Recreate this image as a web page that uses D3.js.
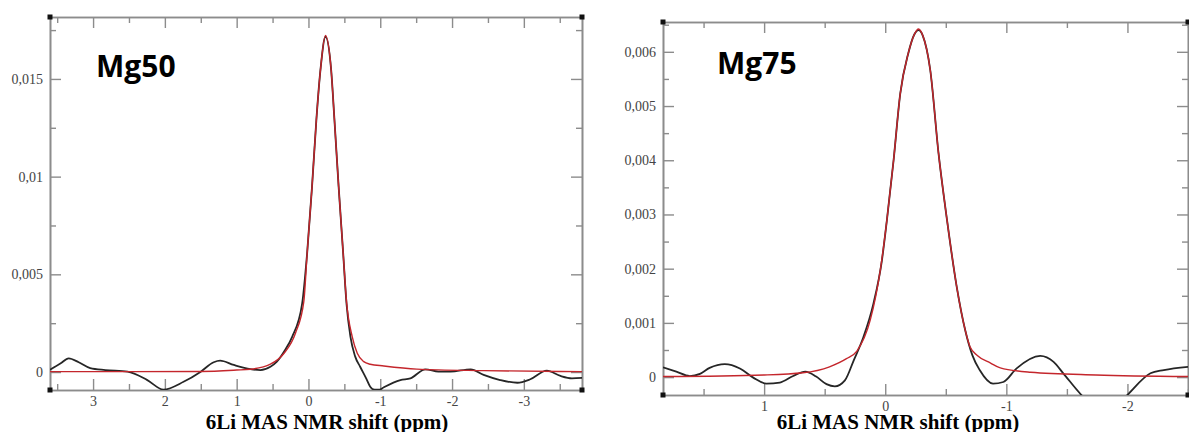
<!DOCTYPE html>
<html><head><meta charset="utf-8">
<script src="https://cdn.jsdelivr.net/npm/d3@7"></script>
<style>body{margin:0;background:#fff}svg{display:block}</style>
</head><body><svg id="c" width="1189" height="432"></svg>
<script>
// ---------- Mg50 ----------
const mg50Shift = [3.60,3.45,3.34,3.20,3.04,2.83,2.52,2.25,2.02,1.74,1.50,1.32,1.23,1.04,0.81,0.67,0.53,0.44,0.33,0.227,0.088,0.018,-0.05,-0.11,-0.167,-0.237,-0.316,-0.362,-0.42,-0.483,-0.53,-0.585,-0.65,-0.72,-0.80,-0.86,-0.92,-0.99,-1.05,-1.28,-1.42,-1.63,-1.81,-1.98,-2.26,-2.44,-2.67,-2.91,-3.09,-3.32,-3.51,-3.67,-3.82];
const mg50Intensity = [0.00012,0.00045,0.0007,0.0005,0.0002,0.0001,0.00002,-0.0004,-0.0009,-0.0005,0.00002,0.0005,0.00058,0.00036,0.00015,0.0001,0.00027,0.00053,0.0011,0.0018,0.0035,0.0061,0.0095,0.0129,0.01546,0.01716,0.01546,0.0129,0.0095,0.0061,0.0035,0.0018,0.0008,0.00027,-0.0003,-0.00075,-0.0009,-0.0009,-0.00078,-0.00041,-0.00032,0.00014,0.00002,0.00002,0.00014,-0.00015,-0.00041,-0.00055,-0.00037,0.00007,-0.0002,-0.00032,-0.0003];
const mg50FitShift = [3.60,2.5,1.5,1.0,0.81,0.53,0.34,0.18,0.065,0.018,-0.05,-0.11,-0.167,-0.237,-0.316,-0.362,-0.42,-0.483,-0.53,-0.61,-0.68,-0.77,-0.86,-1.05,-1.51,-2.44,-3.82];
const mg50Fit = [0.00002,0.00002,0.00003,0.0001,0.00014,0.0004,0.00096,0.002,0.0036,0.0061,0.0095,0.0129,0.01546,0.01722,0.01546,0.0129,0.0095,0.0061,0.0036,0.0018,0.00096,0.00053,0.0004,0.00031,0.00015,0.00007,0.00002];
const mg50XTicks = [3,2,1,0,-1,-2,-3];
const mg50XMinor = [3.5,2.5,1.5,0.5,-0.5,-1.5,-2.5,-3.5];
const mg50YTicks = [0,0.005,0.01,0.015];
const mg50YLabels = ["0","0,005","0,01","0,015"];
const mg50YMinor = [0.0025,0.0075,0.0125,0.0175];

// ---------- Mg75 ----------
const mg75Shift = [1.835,1.725,1.614,1.53,1.45,1.325,1.2,1.09,0.98,0.87,0.76,0.66,0.57,0.485,0.416,0.333,0.26,0.18,0.097,0.027,-0.014,-0.069,-0.124,-0.19,-0.24,-0.275,-0.31,-0.372,-0.44,-0.51,-0.59,-0.66,-0.72,-0.78,-0.89,-0.975,-1.085,-1.28,-1.39,-1.47,-1.62,-1.75,-1.88,-2.0,-2.19,-2.3,-2.5];
const mg75Intensity = [0.00018,0.0001,0.00002,0.00006,0.00017,0.00024,0.00016,-0.00001,-0.00012,-0.0001,0.00002,0.0001,0.00001,-0.00013,-0.00017,-0.00006,0.00031,0.00074,0.00136,0.00216,0.0029,0.004,0.00523,0.00597,0.00632,0.0064,0.0063,0.00566,0.00413,0.0029,0.00167,0.00087,0.0004,0.00013,-0.00012,-0.00009,0.00016,0.00039,0.00028,0.00007,-0.00033,-0.0006,-0.0006,-0.00033,0.00007,0.00013,0.00019];
const mg75FitShift = [1.835,1.0,0.68,0.46,0.32,0.234,0.124,0.041,-0.014,-0.069,-0.124,-0.19,-0.24,-0.275,-0.31,-0.372,-0.44,-0.51,-0.59,-0.66,-0.70,-0.76,-0.87,-0.95,-1.2,-1.74,-2.5];
const mg75Fit = [0.00001,0.00004,0.00008,0.00019,0.00034,0.00048,0.00105,0.00197,0.0029,0.004,0.00523,0.00597,0.00632,0.00642,0.0063,0.00566,0.00413,0.0029,0.00167,0.00087,0.00056,0.0004,0.00026,0.00017,0.00009,0.00004,0.00001];
const mg75XTicks = [1,0,-1,-2];
const mg75XMinor = [1.5,0.5,-0.5,-1.5,-2.5];
const mg75YTicks = [0,0.001,0.002,0.003,0.004,0.005,0.006];
const mg75YLabels = ["0","0,001","0,002","0,003","0,004","0,005","0,006"];
const mg75YMinor = [0.0005,0.0015,0.0025,0.0035,0.0045,0.0055,0.0065];

const axisTitle = "6Li MAS NMR shift (ppm)";

const svg = d3.select("#c");
const AXC = "#8c8c8c", LBL = "#444";

function panel(o) {
  const x = d3.scaleLinear().domain(o.xDomain).range([o.L, o.R]);
  const y = d3.scaleLinear().domain(o.yDomain).range([o.B, o.T]);
  const g = svg.append("g");
  const cid = "clip" + o.id;
  svg.append("clipPath").attr("id", cid).append("rect")
    .attr("x", o.L).attr("y", o.T).attr("width", o.R - o.L).attr("height", o.B - o.T);

  const style = sel => {
    sel.selectAll(".domain").attr("stroke", AXC).attr("stroke-width", 1.6);
    sel.selectAll(".tick line").attr("stroke", AXC).attr("stroke-width", 1.4);
    sel.selectAll("text").attr("fill", LBL).attr("font-family", "Liberation Serif, serif").attr("font-size", 14);
  };
  // bottom
  g.append("g").attr("transform", `translate(0,${o.B})`)
    .call(d3.axisBottom(x).tickValues(o.xMinor).tickSizeInner(-6).tickSizeOuter(0).tickFormat("")).call(style);
  g.append("g").attr("transform", `translate(0,${o.B})`)
    .call(d3.axisBottom(x).tickValues(o.xTicks).tickSizeInner(-11).tickSizeOuter(0).tickPadding(6).tickFormat(d => String(d))).call(style);
  // top
  g.append("g").attr("transform", `translate(0,${o.T})`)
    .call(d3.axisTop(x).tickValues(o.xMinor).tickSizeInner(-6).tickSizeOuter(0).tickFormat("")).call(style);
  g.append("g").attr("transform", `translate(0,${o.T})`)
    .call(d3.axisTop(x).tickValues(o.xTicks).tickSizeInner(-11).tickSizeOuter(0).tickFormat("")).call(style);
  // left
  g.append("g").attr("transform", `translate(${o.L},0)`)
    .call(d3.axisLeft(y).tickValues(o.yMinor).tickSizeInner(-6).tickSizeOuter(0).tickFormat("")).call(style);
  g.append("g").attr("transform", `translate(${o.L},0)`)
    .call(d3.axisLeft(y).tickValues(o.yTicks).tickSizeInner(-11).tickSizeOuter(0).tickPadding(7)
      .tickFormat((d, i) => o.yLabels[i])).call(style);
  // right
  g.append("g").attr("transform", `translate(${o.R},0)`)
    .call(d3.axisRight(y).tickValues(o.yMinor).tickSizeInner(-6).tickSizeOuter(0).tickFormat("")).call(style);
  g.append("g").attr("transform", `translate(${o.R},0)`)
    .call(d3.axisRight(y).tickValues(o.yTicks).tickSizeInner(-11).tickSizeOuter(0).tickFormat("")).call(style);

  // curves
  const line = d3.line().x(d => x(d[0])).y(d => y(d[1])).curve(d3.curveMonotoneX);
  const data = o.shift.map((s, i) => [s, o.intensity[i]]);
  const fit = o.fitShift.map((s, i) => [s, o.fit[i]]);
  const cg = g.append("g").attr("clip-path", `url(#${cid})`);
  cg.append("path").datum(data).attr("d", line).attr("fill", "none")
    .attr("stroke", "#262626").attr("stroke-width", 1.8).attr("stroke-linejoin", "round");
  cg.append("path").datum(fit).attr("d", line).attr("fill", "none")
    .attr("stroke", "#c4262c").attr("stroke-width", 1.4).attr("stroke-linejoin", "round");

  // corner squares
  [[o.L, o.T], [o.R, o.T], [o.L, o.B], [o.R, o.B]].forEach(([cx, cy]) => {
    g.append("rect").attr("x", cx - 2.5).attr("y", cy - 2.5).attr("width", 5).attr("height", 5).attr("fill", "#111");
  });

  // title
  g.append("text").attr("x", o.titleX).attr("y", o.titleY).text(o.title)
    .attr("font-family", "Open Sans, sans-serif").attr("font-weight", 700).attr("font-size", 30).attr("fill", "#000");
  // axis title
  g.append("text").attr("x", o.axisTitleX).attr("y", 429).attr("text-anchor", "middle").text(axisTitle)
    .attr("font-family", "Liberation Serif, serif").attr("font-weight", 700).attr("font-size", 21).attr("fill", "#000");
}

panel({id: "a", L: 50, R: 582, T: 17, B: 390, xDomain: [3.6, -3.81], yDomain: [-0.00092, 0.01817],
  xTicks: mg50XTicks, xMinor: mg50XMinor, yTicks: mg50YTicks, yLabels: mg50YLabels, yMinor: mg50YMinor,
  shift: mg50Shift, intensity: mg50Intensity, fitShift: mg50FitShift, fit: mg50Fit,
  title: "Mg50", titleX: 96, titleY: 77, axisTitleX: 327});

panel({id: "b", L: 663, R: 1188, T: 22, B: 395, xDomain: [1.835, -2.5], yDomain: [-0.00033, 0.00655],
  xTicks: mg75XTicks, xMinor: mg75XMinor, yTicks: mg75YTicks, yLabels: mg75YLabels, yMinor: mg75YMinor,
  shift: mg75Shift, intensity: mg75Intensity, fitShift: mg75FitShift, fit: mg75Fit,
  title: "Mg75", titleX: 717, titleY: 74, axisTitleX: 898});
</script></body></html>
